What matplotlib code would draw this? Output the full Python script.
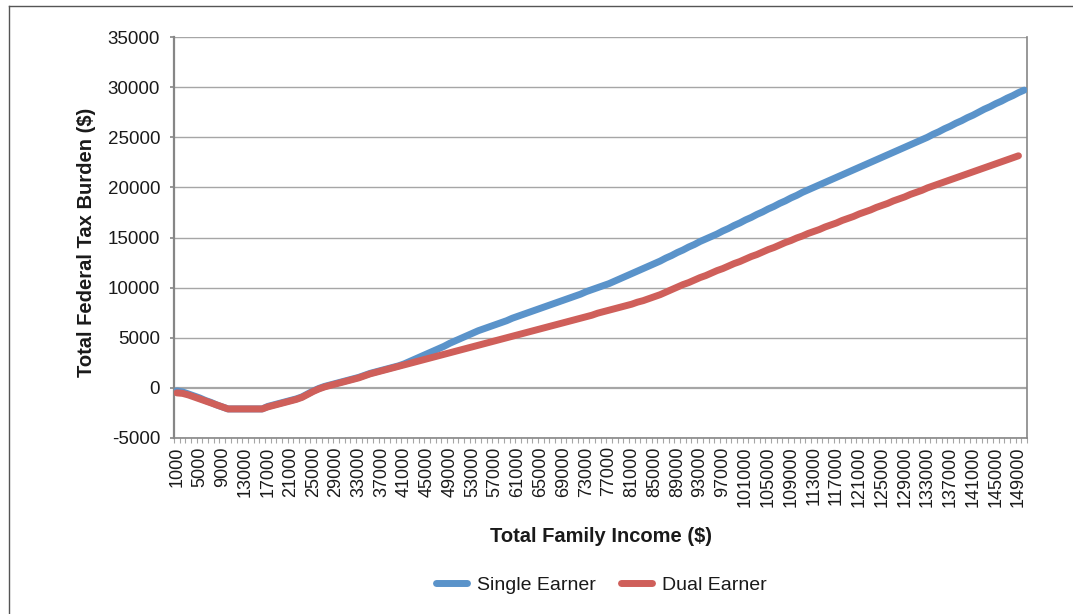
import numpy as np
import matplotlib
matplotlib.use("Agg")
import matplotlib.pyplot as plt
from matplotlib.lines import Line2D

# ---- data ----
income = list(range(1000, 150001, 1000))
single_earner = [
    -300, -400, -600, -800, -1000, -1250, -1450, -1700, -1900, -2100,
    -2100, -2100, -2100, -2100, -2100, -2100, -1850, -1700, -1550, -1400,
    -1250, -1100, -900, -600, -300, -50, 150, 300, 450, 600,
    750, 900, 1050, 1250, 1450, 1600, 1750, 1900, 2050, 2200,
    2400, 2650, 2900, 3150, 3400, 3650, 3900, 4150, 4450, 4700,
    4950, 5200, 5450, 5700, 5900, 6100, 6300, 6500, 6700, 6950,
    7150, 7350, 7550, 7750, 7950, 8150, 8350, 8550, 8750, 8950,
    9150, 9350, 9600, 9800, 10000, 10200, 10400, 10650, 10900, 11150,
    11400, 11650, 11900, 12150, 12400, 12650, 12950, 13200, 13500, 13750,
    14050, 14300, 14600, 14850, 15100, 15350, 15650, 15900, 16200, 16450,
    16750, 17000, 17300, 17550, 17850, 18100, 18400, 18650, 18950, 19200,
    19500, 19750, 20000, 20250, 20500, 20750, 21000, 21250, 21500, 21750,
    22000, 22250, 22500, 22750, 23000, 23250, 23500, 23750, 24000, 24250,
    24500, 24750, 25000, 25300, 25550, 25850, 26100, 26400, 26650, 26950,
    27200, 27500, 27800, 28050, 28350, 28600, 28900, 29150, 29450, 29700,
]
dual_earner = [
    -500, -550, -700, -900, -1100, -1300, -1500, -1700, -1900, -2100,
    -2100, -2100, -2100, -2100, -2100, -2100, -1900, -1750, -1600, -1450,
    -1300, -1150, -950, -650, -350, -100, 100, 250, 400, 550,
    700, 850, 1000, 1200, 1400, 1550, 1700, 1850, 2000, 2150,
    2300, 2450, 2600, 2750, 2900, 3050, 3200, 3350, 3500, 3650,
    3800, 3950, 4100, 4250, 4400, 4550, 4700, 4850, 5000, 5150,
    5300, 5450, 5600, 5750, 5900, 6050, 6200, 6350, 6500, 6650,
    6800, 6950, 7100, 7250, 7450, 7600, 7750, 7900, 8050, 8200,
    8350, 8550, 8700, 8900, 9100, 9300, 9550, 9800, 10050, 10300,
    10500, 10750, 11000, 11200, 11450, 11700, 11900, 12150, 12400, 12600,
    12850, 13100, 13300, 13550, 13800, 14000, 14250, 14500, 14700, 14950,
    15150, 15400, 15600, 15800, 16050, 16250, 16450, 16700, 16900, 17100,
    17350, 17550, 17750, 18000, 18200, 18400, 18650, 18850, 19050, 19300,
    19500, 19700, 19950, 20150, 20350, 20550, 20750, 20950, 21150, 21350,
    21550, 21750, 21950, 22150, 22350, 22550, 22750, 22950, 23150, None,
]
y_ticks = [-5000, 0, 5000, 10000, 15000, 20000, 25000, 30000, 35000]
series_names = ["Single Earner", "Dual Earner"]

# ---- style ----
plt.rcParams['font.family'] = ['Liberation Sans', 'DejaVu Sans']
BLUE = '#5A93CA'
RED = '#CF5F5A'
TXT = '#1a1a1a'
AX = '#868686'
GRID = '#a6a6a6'
LW = 5.0

fig = plt.figure(figsize=(10.73, 6.14), dpi=100)
ax = fig.add_axes([174/1073, (614-438)/614, 853/1073, 401/614])

x = np.arange(len(income))
s = np.array(single_earner, dtype=float)
d = np.array([np.nan if v is None else v for v in dual_earner], dtype=float)

ax.plot(x, s, color=BLUE, lw=LW, solid_capstyle='round', solid_joinstyle='round', zorder=3)
ax.plot(x, d, color=RED, lw=LW, solid_capstyle='round', solid_joinstyle='round', zorder=4)

ax.set_xlim(-0.5, len(income) - 0.5)
ax.set_ylim(-5000, 35000)
ax.set_yticks(y_ticks)
ax.set_yticklabels([str(v) for v in y_ticks])
for v in y_ticks:
    ax.axhline(v, color=GRID, lw=1.0 if v != 0 else 1.6, zorder=1)

lab_idx = list(range(0, len(income), 4))
ax.set_xticks(lab_idx)
ax.set_xticklabels([str(income[i]) for i in lab_idx], rotation=90)
ax.set_xticks(np.arange(-0.5, len(income), 1), minor=True)
ax.tick_params(axis='x', which='major', length=0, pad=6, labelsize=13, labelcolor=TXT)
ax.tick_params(axis='x', which='minor', length=3.5, width=0.8, color=GRID, direction='out')
ax.tick_params(axis='y', which='major', length=3, width=1.2, color=AX, labelsize=13.5, labelcolor=TXT, pad=7)

ax.spines['left'].set_color(AX)
ax.spines['left'].set_linewidth(1.6)
for side in ['right', 'bottom']:
    ax.spines[side].set_color(AX)
    ax.spines[side].set_linewidth(1.2)
ax.spines['top'].set_visible(False)

ax.set_ylabel('Total Federal Tax Burden ($)', fontsize=14.5, fontweight='bold', color=TXT)
ax.set_xlabel('Total Family Income ($)', fontsize=14.5, fontweight='bold', color=TXT)
ax.yaxis.set_label_coords(-0.092, 0.487)
ax.xaxis.set_label_coords(0.5, -0.222)

handles = [Line2D([], [], color=BLUE, lw=LW, solid_capstyle='round'),
           Line2D([], [], color=RED, lw=LW, solid_capstyle='round')]
fig.legend(handles, series_names, loc='center', bbox_to_anchor=(601/1073, 1 - 585/614),
           ncol=2, frameon=False, fontsize=14, handlelength=1.6, columnspacing=1.3,
           handletextpad=0.5, labelcolor=TXT)

# outer frame of chart
fig.add_artist(Line2D([9/1073, 9/1073], [0, 1 - 6/614], transform=fig.transFigure, color='#555555', lw=1.0))
fig.add_artist(Line2D([9/1073, 1], [1 - 6/614, 1 - 6/614], transform=fig.transFigure, color='#555555', lw=1.0))

fig.savefig('out.png', dpi=100)
